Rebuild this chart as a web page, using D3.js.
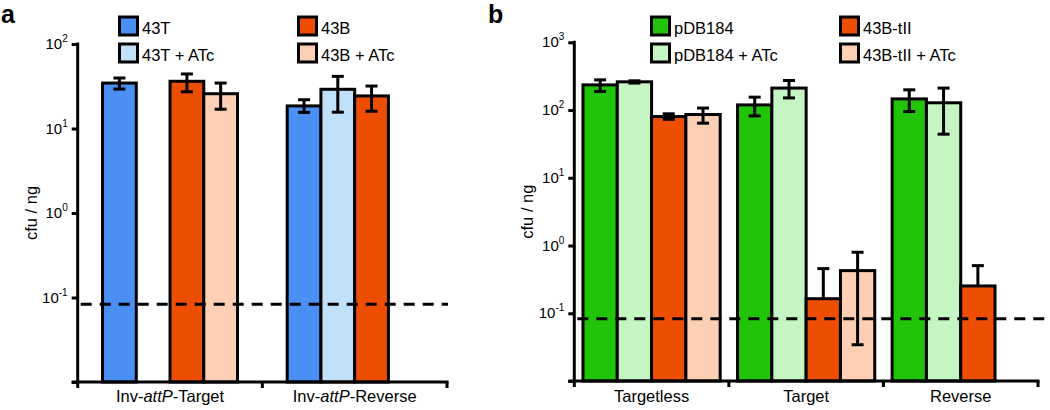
<!DOCTYPE html>
<html>
<head>
<meta charset="utf-8">
<script src="https://cdn.jsdelivr.net/npm/d3@7"></script>
<style>
  html, body { margin: 0; padding: 0; background: #fff; }
  svg { display: block; font-family: "Liberation Sans", Arial, Helvetica, sans-serif; }
</style>
</head>
<body>
<svg id="chart" width="1050" height="410"></svg>
<script>
// ---------------- DATA ----------------
// Panel a
const aGroups = ["Inv-attP-Target", "Inv-attP-Reverse"];
const aSeries = ["43T", "43T + ATc", "43B", "43B + ATc"];
const a43T      = [34.5, 18.5];
const a43T_lo   = [29.3, 15.5];
const a43T_hi   = [39.6, 21.9];
const a43TATc    = [null, 29.1];
const a43TATc_lo = [null, 15.6];
const a43TATc_hi = [null, 41.4];
const a43B      = [36.2, 24.3];
const a43B_lo   = [27.2, 16.0];
const a43B_hi   = [44.2, 31.8];
const a43BATc    = [25.8, null];
const a43BATc_lo = [16.9, null];
const a43BATc_hi = [34.5, null];
const aTicks = [0.01, 0.1, 1, 10, 100];

// Panel b
const bGroups = ["Targetless", "Target", "Reverse"];
const bSeries = ["pDB184", "pDB184 + ATc", "43B-tII", "43B-tII + ATc"];
const bPDB      = [235, 119, 146];
const bPDB_lo   = [188, 82, 95];
const bPDB_hi   = [279, 155, 199];
const bPDBATc    = [261, 211, 128];
const bPDBATc_lo = [250, 151, 44];
const bPDBATc_hi = [270, 273, 211];
const bTII      = [80.2, 0.164, 0.253];
const bTII_lo   = [73, null, null];
const bTII_hi   = [88, 0.456, 0.505];
const bTIIATc    = [85.9, 0.426, null];
const bTIIATc_lo = [64, 0.0343, null];
const bTIIATc_hi = [107, 0.796, null];
const bTicks = [0.01, 0.1, 1, 10, 100, 1000];

const detectionLimit = 0.083;
const yLabel = "cfu / ng";

// ---------------- HELPERS ----------------
const svg = d3.select("#chart");
const SW = 3;

function buildRows(groups, series, means, los, his) {
  const rows = [];
  groups.forEach((g, gi) => {
    series.forEach((s, si) => {
      if (means[si][gi] != null) {
        rows.push({ group: g, series: s, v: means[si][gi], lo: los[si][gi], hi: his[si][gi] });
      }
    });
  });
  return rows;
}

function drawPanel(cfg) {
  const g = svg.append("g");
  const y = d3.scaleLog().domain([cfg.ticks[0], cfg.ticks[cfg.ticks.length - 1]]).range([cfg.bottom, cfg.top]);
  const x0 = d3.scaleBand().domain(cfg.groups).range([cfg.left, cfg.right]).padding(0);
  const x1 = d3.scaleBand().domain(cfg.series).range([0, x0.bandwidth()]).paddingInner(0).paddingOuter(cfg.outer);
  const color = d3.scaleOrdinal().domain(cfg.series).range(cfg.colors);
  const rows = buildRows(cfg.groups, cfg.series, cfg.means, cfg.los, cfg.his);

  // bars
  g.selectAll("rect.bar").data(rows).join("rect")
    .attr("class", "bar")
    .attr("x", d => x0(d.group) + x1(d.series))
    .attr("y", d => y(d.v))
    .attr("width", x1.bandwidth())
    .attr("height", d => y(cfg.ticks[0]) - y(d.v))
    .attr("fill", d => color(d.series))
    .attr("stroke", "#000").attr("stroke-width", SW);

  // detection limit dashed line
  g.append("line")
    .attr("x1", cfg.left + 3).attr("x2", cfg.dashEnd)
    .attr("y1", y(detectionLimit)).attr("y2", y(detectionLimit))
    .attr("stroke", "#000").attr("stroke-width", SW)
    .attr("stroke-dasharray", "11,8");

  // error bars
  const cap = 6;
  const eb = g.selectAll("g.eb").data(rows).join("g").attr("class", "eb")
    .attr("transform", d => `translate(${x0(d.group) + x1(d.series) + x1.bandwidth() / 2},0)`);
  eb.append("line")
    .attr("x1", 0).attr("x2", 0)
    .attr("y1", d => y(d.lo != null ? d.lo : d.v)).attr("y2", d => y(d.hi))
    .attr("stroke", "#000").attr("stroke-width", SW);
  eb.append("line")
    .attr("x1", -cap).attr("x2", cap)
    .attr("y1", d => y(d.hi)).attr("y2", d => y(d.hi))
    .attr("stroke", "#000").attr("stroke-width", SW);
  eb.filter(d => d.lo != null).append("line")
    .attr("x1", -cap).attr("x2", cap)
    .attr("y1", d => y(d.lo)).attr("y2", d => y(d.lo))
    .attr("stroke", "#000").attr("stroke-width", SW);

  // y axis
  const yAxis = d3.axisLeft(y).tickValues(cfg.ticks).tickSize(6).tickSizeOuter(0).tickFormat("");
  const ya = g.append("g").attr("transform", `translate(${cfg.left},0)`).call(yAxis);
  ya.select(".domain").remove();
  ya.selectAll(".tick line").attr("stroke", "#000").attr("stroke-width", SW);
  g.append("line")
    .attr("x1", cfg.left).attr("x2", cfg.left)
    .attr("y1", y(cfg.ticks[cfg.ticks.length - 1]) - SW / 2).attr("y2", cfg.bottom + 6)
    .attr("stroke", "#000").attr("stroke-width", SW);

  // tick labels 10^n
  cfg.ticks.slice(1).forEach(t => {
    const e = Math.round(Math.log10(t));
    const tx = g.append("text")
      .attr("x", cfg.left - 10).attr("y", y(t) + 5)
      .attr("text-anchor", "end")
      .attr("font-size", 15).attr("fill", "#000");
    tx.append("tspan").text("10");
    tx.append("tspan").attr("dy", -7).attr("font-size", 10).text(String(e));
  });

  // y label
  g.append("text")
    .attr("transform", `translate(${cfg.left - 41},${(cfg.top + cfg.bottom) / 2}) rotate(-90)`)
    .attr("text-anchor", "middle")
    .attr("font-size", 16.5).attr("fill", "#000")
    .text(yLabel);

  // x axis
  g.append("line")
    .attr("x1", cfg.left - 6).attr("x2", cfg.right + SW / 2)
    .attr("y1", cfg.bottom).attr("y2", cfg.bottom)
    .attr("stroke", "#000").attr("stroke-width", SW);
  const bounds = cfg.groups.map(gr => x0(gr) + x0.bandwidth());
  g.selectAll("line.xt").data(bounds).join("line").attr("class", "xt")
    .attr("x1", d => d).attr("x2", d => d)
    .attr("y1", cfg.bottom).attr("y2", cfg.bottom + 6)
    .attr("stroke", "#000").attr("stroke-width", SW);

  // x labels (band centres)
  const xa = d3.axisBottom(x0).tickSize(0).tickFormat("");
  const xg = g.append("g").attr("transform", `translate(0,${cfg.bottom})`).call(xa);
  xg.select(".domain").remove();
  cfg.groups.forEach(gr => {
    const t = g.append("text")
      .attr("x", x0(gr) + x0.bandwidth() / 2).attr("y", 402)
      .attr("text-anchor", "middle").attr("font-size", 16.5).attr("fill", "#000");
    const m = gr.match(/^(Inv-)(attP)(-.*)$/);
    if (m) {
      t.append("tspan").text(m[1]);
      t.append("tspan").attr("font-style", "italic").text(m[2]);
      t.append("tspan").text(m[3]);
    } else {
      t.text(gr);
    }
  });

  // legend
  const legX = [cfg.legX[0], cfg.legX[0], cfg.legX[1], cfg.legX[1]];
  const legY = [26, 53, 26, 53];
  cfg.series.forEach((s, i) => {
    g.append("rect")
      .attr("x", legX[i] + SW / 2).attr("y", legY[i] - 9)
      .attr("width", 18).attr("height", 18)
      .attr("fill", color(s)).attr("stroke", "#000").attr("stroke-width", SW);
    g.append("text")
      .attr("x", legX[i] + 24).attr("y", legY[i] + 8)
      .attr("font-size", 16.5).attr("fill", "#000")
      .text(s);
  });

  // panel letter
  svg.append("text")
    .attr("x", cfg.letterX).attr("y", 23)
    .attr("font-size", 25).attr("font-weight", "bold").attr("fill", "#000")
    .text(cfg.letter);
}

drawPanel({
  letter: "a", letterX: 1,
  groups: aGroups, series: aSeries,
  means: [a43T, a43TATc, a43B, a43BATc],
  los: [a43T_lo, a43TATc_lo, a43B_lo, a43BATc_lo],
  his: [a43T_hi, a43TATc_hi, a43B_hi, a43BATc_hi],
  colors: ["#4a8ff4", "#c1e0f9", "#ee4e02", "#fdd0b6"],
  ticks: aTicks,
  left: 77.7, right: 447, top: 44, bottom: 382, outer: 0.736,
  dashEnd: 448, legX: [118, 297]
});

drawPanel({
  letter: "b", letterX: 488,
  groups: bGroups, series: bSeries,
  means: [bPDB, bPDBATc, bTII, bTIIATc],
  los: [bPDB_lo, bPDBATc_lo, bTII_lo, bTIIATc_lo],
  his: [bPDB_hi, bPDBATc_hi, bTII_hi, bTIIATc_hi],
  colors: ["#22c40a", "#c6f5c4", "#ee4e02", "#fdd0b6"],
  ticks: bTicks,
  left: 574.3, right: 1038, top: 42.3, bottom: 381, outer: 0.253,
  dashEnd: 1050, legX: [650, 839]
});
</script>
</body>
</html>
